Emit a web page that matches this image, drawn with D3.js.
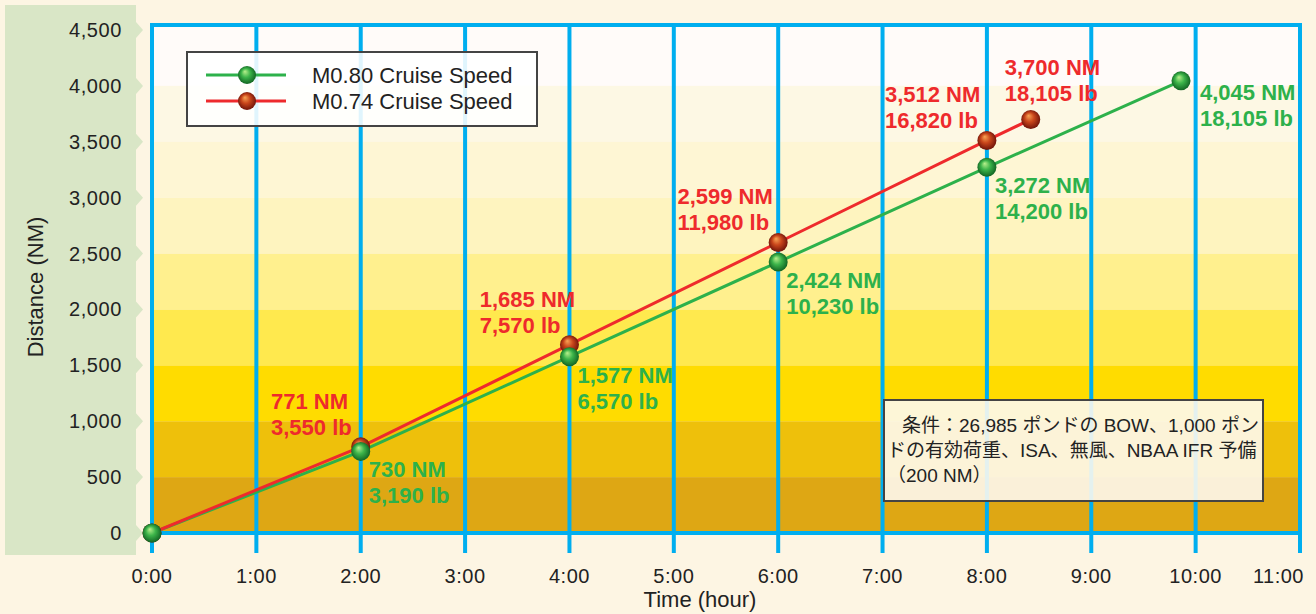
<!DOCTYPE html>
<html><head><meta charset="utf-8">
<script src="https://cdn.jsdelivr.net/npm/d3@7"></script>
<style>
html,body{margin:0;padding:0;background:#FDF5E3;}
svg{display:block;}
text{font-family:"Liberation Sans","Noto Sans CJK JP",Arial,sans-serif;}
</style></head><body>
<svg id="chart" width="1316" height="614"></svg>
<script>
// ---- data ----
const hours = [0,1,2,3,4,5,6,7,8,9,10,11];
const xTickLabels = ["0:00","1:00","2:00","3:00","4:00","5:00","6:00","7:00","8:00","9:00","10:00","11:00"];
const yTicks = [0,500,1000,1500,2000,2500,3000,3500,4000,4500];
const bandColors = ["#DEA714","#EEC00B","#FFDC00","#FFE94E","#FFF08E","#FEF4BF","#FEF6D4","#FDF8E4","#FFFBF9"];

const m80Time = [0,2,4,6,8,9.86];
const m80Dist = [0,730,1577,2424,3272,4045];
const m80Fuel = ["", "3,190 lb","6,570 lb","10,230 lb","14,200 lb","18,105 lb"];

const m74Time = [0,2,4,6,8,8.42];
const m74Dist = [0,771,1685,2599,3512,3700];
const m74Fuel = ["", "3,550 lb","7,570 lb","11,980 lb","16,820 lb","18,105 lb"];

const seriesNames = ["M0.80 Cruise Speed","M0.74 Cruise Speed"];
const noteLines = ["条件：26,985 ポンドの BOW、1,000 ポン","ドの有効荷重、ISA、無風、NBAA IFR 予備","（200 NM）"];

// ---- layout ----
const svg = d3.select("#chart");
const plotTop = 25, plotBottom = 533;
const x = d3.scaleLinear().domain([0,11]).range([152,1300]);
const y = d3.scaleLinear().domain([0,4500]).range([533,30]);
const blue = "#00AEEF", green = "#2DB14B", red = "#EE2A2C";
const fmt = d3.format(",");

// gradients
const defs = svg.append("defs");
function sphere(id, c0, c1, c2){
  const g = defs.append("radialGradient").attr("id",id).attr("cx","50%").attr("cy","50%").attr("r","55%").attr("fx","38%").attr("fy","30%");
  g.append("stop").attr("offset","0%").attr("stop-color",c0);
  g.append("stop").attr("offset","45%").attr("stop-color",c1);
  g.append("stop").attr("offset","100%").attr("stop-color",c2);
}
sphere("gGreen","#B8F08C","#3CB44A","#0C5A1E");
sphere("gRed","#F8A455","#C9461B","#650E08");

// left green panel with notches
const panel = [[5,5],[136,5]];
yTicks.slice().reverse().forEach(t=>{ const yy=y(t); panel.push([136,yy-8],[143,yy],[136,yy+8]); });
panel.push([136,555],[5,555]);
svg.append("path").attr("d", d3.line()(panel)+"Z").attr("fill","#D9E6C6");

// bands
const bands = svg.append("g");
bandColors.forEach((c,i)=>{
  const y0 = y(yTicks[i]), y1 = i===bandColors.length-1 ? plotTop : y(yTicks[i+1]);
  bands.append("rect").attr("x",x(0)).attr("width",x(11)-x(0)).attr("y",y1).attr("height",y0-y1).attr("fill",c);
});

// grid / frame
const grid = svg.append("g").attr("stroke",blue).attr("stroke-width",4);
hours.forEach(h=>grid.append("line").attr("x1",x(h)).attr("x2",x(h)).attr("y1",plotTop).attr("y2",553));
grid.append("line").attr("x1",x(0)-2).attr("x2",x(11)+2).attr("y1",plotTop).attr("y2",plotTop);
grid.append("line").attr("x1",x(0)).attr("x2",x(11)).attr("y1",plotBottom).attr("y2",plotBottom);

// axis labels
svg.append("g").selectAll("text").data(yTicks).join("text")
  .attr("x",122).attr("y",d=>y(d)+7).attr("text-anchor","end")
  .attr("font-size",20).attr("letter-spacing",0.6).attr("fill","#222").text(d=>fmt(d));
svg.append("g").selectAll("text").data(hours).join("text")
  .attr("x",(d,i)=> i===hours.length-1 ? 1304 : x(d)).attr("y",583)
  .attr("text-anchor",(d,i)=> i===hours.length-1 ? "end" : "middle")
  .attr("font-size",20).attr("letter-spacing",0.5).attr("fill","#222").text((d,i)=>xTickLabels[i]);
svg.append("text").attr("x",700).attr("y",607).attr("text-anchor","middle").attr("font-size",22).attr("fill","#222").text("Time (hour)");
svg.append("text").attr("transform","translate(43,287) rotate(-90)").attr("text-anchor","middle").attr("font-size",22).attr("fill","#222").text("Distance (NM)");

// lines
const line = d3.line().x(d=>x(d[0])).y(d=>y(d[1]));
const g80 = m80Time.map((t,i)=>[t,m80Dist[i]]);
const g74 = m74Time.map((t,i)=>[t,m74Dist[i]]);
svg.append("path").attr("d",line(g80)).attr("fill","none").attr("stroke",green).attr("stroke-width",3);
svg.append("path").attr("d",line(g74)).attr("fill","none").attr("stroke",red).attr("stroke-width",3);
svg.append("g").selectAll("circle").data(g74).join("circle").attr("cx",d=>x(d[0])).attr("cy",d=>y(d[1])).attr("r",9.5).attr("fill","url(#gRed)");
svg.append("g").selectAll("circle").data(g80).join("circle").attr("cx",d=>x(d[0])).attr("cy",d=>y(d[1])).attr("r",9.5).attr("fill","url(#gGreen)");

// data labels
function labelBlock(px,py,l1,l2,color,place){
  const g = svg.append("g").attr("fill",color).attr("font-size",22).attr("font-weight","bold");
  const t1 = g.append("text").text(l1), t2 = g.append("text").text(l2);
  const w2 = t2.node().getComputedTextLength();
  let lx, b1;
  if(place==="left"){ lx = px-9-w2; b1 = py-38; }
  else if(place==="above"){ lx = px-26; b1 = py-44; }
  else if(place==="right"){ lx = px+19; b1 = py+19; }
  else { lx = px+8; b1 = py+26; }
  t1.attr("x",lx).attr("y",b1); t2.attr("x",lx).attr("y",b1+26);
}
g74.forEach((d,i)=>{ if(i===0) return;
  labelBlock(x(d[0]),y(d[1]),fmt(d[1])+" NM",m74Fuel[i],red, i===g74.length-1?"above":"left"); });
g80.forEach((d,i)=>{ if(i===0) return;
  labelBlock(x(d[0]),y(d[1]),fmt(d[1])+" NM",m80Fuel[i],green, i===g80.length-1?"right":"below"); });

// legend
const lg = svg.append("g");
lg.append("rect").attr("x",187).attr("y",52).attr("width",350).attr("height",74).attr("fill","#FFFFFF").attr("fill-opacity",0.88).attr("stroke","#444").attr("stroke-width",2);
[[green,"url(#gGreen)"],[red,"url(#gRed)"]].forEach((c,i)=>{
  const yy = 75 + i*26;
  lg.append("line").attr("x1",206).attr("x2",286).attr("y1",yy).attr("y2",yy).attr("stroke",c[0]).attr("stroke-width",3);
  lg.append("circle").attr("cx",247).attr("cy",yy).attr("r",9).attr("fill",c[1]);
  lg.append("text").attr("x",312).attr("y",yy+8).attr("font-size",22).attr("fill","#222").text(seriesNames[i]);
});

// note box
const nb = svg.append("g");
nb.append("rect").attr("x",884).attr("y",400).attr("width",379).attr("height",101).attr("fill","#FDF8EE").attr("fill-opacity",0.9).attr("stroke","#444").attr("stroke-width",2);
noteLines.forEach((s,i)=>{
  nb.append("text").attr("x", i===0?902:887).attr("y",432+i*25).attr("font-size",19).attr("fill","#222").text(s);
});
</script>
</body></html>
